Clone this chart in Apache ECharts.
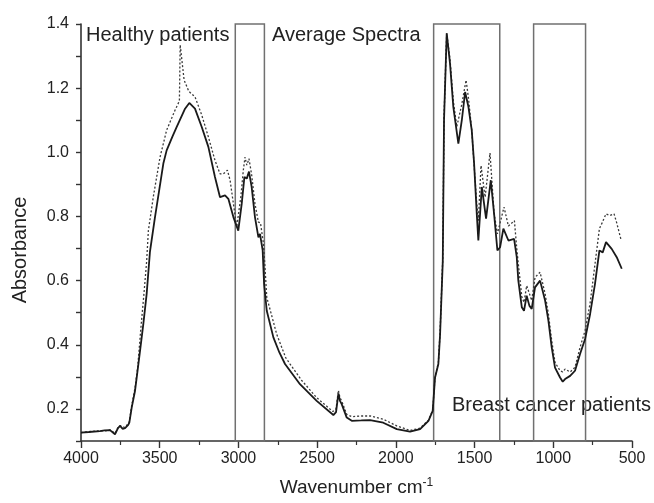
<!DOCTYPE html>
<html>
<head>
<meta charset="utf-8">
<script src="https://cdn.jsdelivr.net/npm/echarts@6/dist/echarts.min.js"></script>
<style>
  html, body { margin: 0; padding: 0; background: #fff; }
  #chart { width: 654px; height: 503px; }
</style>
</head>
<body>
<div id="chart"></div>
<script>
// average spectra (wavenumber cm-1 -> absorbance)
const cancerWn = [4000, 3950, 3880, 3850, 3816, 3784, 3765, 3752, 3735, 3720, 3700, 3693, 3678, 3657, 3646, 3625, 3604, 3583, 3562, 3530,
  3477, 3456, 3420, 3392, 3339, 3312, 3276, 3233, 3191, 3149, 3117, 3085, 3064, 3032, 3001, 2979, 2962, 2947, 2933, 2916,
  2895, 2873, 2863, 2846, 2837, 2820, 2778, 2740, 2704, 2609, 2503, 2397, 2380, 2365, 2355, 2344, 2312, 2280, 2220, 2164,
  2080, 1994, 1910, 1846, 1793, 1766, 1751, 1730, 1719, 1702, 1694, 1677, 1656, 1635, 1603, 1581, 1560, 1539, 1518, 1503,
  1486, 1476, 1454, 1427, 1397, 1376, 1355, 1338, 1317, 1285, 1249, 1232, 1222, 1200, 1186, 1169, 1152, 1137, 1116, 1084,
  1052, 1031, 1010, 989, 957, 940, 925, 893, 862, 830, 798, 766, 735, 707, 686, 665, 629, 597, 565];
const cancerAbs = [0.126, 0.128, 0.131, 0.133, 0.134, 0.121, 0.14, 0.147, 0.138, 0.14, 0.15, 0.157, 0.204, 0.256, 0.298, 0.381, 0.465, 0.558, 0.69, 0.798,
  0.965, 1.006, 1.048, 1.079, 1.136, 1.154, 1.136, 1.079, 1.017, 0.923, 0.86, 0.866, 0.855, 0.798, 0.756, 0.84, 0.923, 0.918, 0.94, 0.892,
  0.798, 0.735, 0.746, 0.694, 0.59, 0.506, 0.423, 0.376, 0.34, 0.277, 0.225, 0.181, 0.19, 0.248, 0.225, 0.215, 0.173, 0.163, 0.164, 0.165,
  0.157, 0.137, 0.129, 0.137, 0.163, 0.194, 0.298, 0.34, 0.433, 0.66, 1.1, 1.371, 1.277, 1.142, 1.027, 1.1, 1.188, 1.142, 1.069, 0.965,
  0.808, 0.725, 0.892, 0.793, 0.913, 0.808, 0.694, 0.704, 0.762, 0.725, 0.73, 0.673, 0.6, 0.517, 0.506, 0.553, 0.522, 0.512, 0.579, 0.6,
  0.538, 0.475, 0.392, 0.329, 0.298, 0.285, 0.293, 0.303, 0.319, 0.371, 0.418, 0.496, 0.59, 0.694, 0.688, 0.72, 0.699, 0.673, 0.637];

const healthyWn = [4000, 3950, 3880, 3850, 3816, 3784, 3765, 3752, 3720, 3693, 3678, 3657, 3640, 3620, 3600, 3583, 3572, 3541, 3498, 3456,
  3403, 3375, 3370, 3345, 3315, 3276, 3233, 3191, 3149, 3117, 3096, 3070, 3053, 3032, 3011, 3003, 2985, 2969, 2958, 2947,
  2933, 2916, 2895, 2873, 2860, 2841, 2831, 2820, 2757, 2700, 2672, 2600, 2503, 2400, 2380, 2365, 2355, 2344, 2312, 2280,
  2220, 2164, 2080, 1994, 1910, 1846, 1793, 1766, 1751, 1730, 1719, 1702, 1694, 1677, 1656, 1635, 1613, 1581, 1554, 1539,
  1518, 1503, 1486, 1476, 1459, 1433, 1402, 1376, 1355, 1313, 1285, 1247, 1232, 1222, 1200, 1186, 1169, 1152, 1137, 1116,
  1084, 1052, 1031, 1010, 989, 957, 940, 925, 893, 862, 830, 798, 766, 735, 707, 690, 665, 640, 614, 597, 571];
const healthyAbs = [0.126, 0.129, 0.132, 0.131, 0.135, 0.124, 0.142, 0.148, 0.142, 0.16, 0.21, 0.265, 0.33, 0.45, 0.56, 0.66, 0.756, 0.86, 0.985, 1.069,
  1.131, 1.16, 1.335, 1.225, 1.19, 1.173, 1.116, 1.048, 0.975, 0.933, 0.933, 0.944, 0.913, 0.84, 0.767, 0.77, 0.86, 0.944, 0.985, 0.96,
  0.98, 0.93, 0.84, 0.782, 0.78, 0.715, 0.64, 0.548, 0.433, 0.36, 0.34, 0.29, 0.235, 0.192, 0.2, 0.258, 0.235, 0.225, 0.183, 0.176,
  0.178, 0.178, 0.168, 0.147, 0.133, 0.14, 0.165, 0.196, 0.3, 0.345, 0.44, 0.67, 1.11, 1.371, 1.29, 1.16, 1.08, 1.15, 1.225, 1.17,
  1.07, 0.96, 0.84, 0.787, 0.959, 0.86, 0.998, 0.81, 0.746, 0.829, 0.77, 0.787, 0.7, 0.652, 0.55, 0.532, 0.584, 0.56, 0.538, 0.61,
  0.626, 0.559, 0.496, 0.413, 0.345, 0.319, 0.315, 0.324, 0.315, 0.33, 0.392, 0.444, 0.53, 0.652, 0.762, 0.78, 0.808, 0.803, 0.808, 0.78, 0.73];

// highlighted spectral windows (wavenumber from, to)
const boxRanges = [[3020, 2835], [1760, 1340], [1125, 795]];
const boxTop = 1.405;
const xTicks = { min: 500, max: 4000, step: 500 };
const yTicks = { min: 0.1, max: 1.4, step: 0.1 };

const font = "'Liberation Sans', Arial, sans-serif";
const ink = "#222";

function zip(xs, ys) {
  return xs.map((x, i) => [x, ys[i]]);
}

const chart = echarts.init(document.getElementById("chart"));

chart.setOption({
  backgroundColor: "#fff",
  animation: false,
  grid: { left: 81, right: 22, top: 24, bottom: 62 },
  xAxis: {
    type: "value",
    inverse: true,
    min: xTicks.min,
    max: xTicks.max,
    interval: xTicks.step,
    name: "Wavenumber cm{sup|-1}",
    nameLocation: "middle",
    nameGap: 36,
    nameTextStyle: {
      fontFamily: font, fontSize: 19, color: ink,
      rich: { sup: { fontFamily: font, fontSize: 12, color: ink, verticalAlign: "top", padding: [0, 0, 10, 0] } }
    },
    axisLine: { lineStyle: { color: "#333", width: 1.6 } },
    axisTick: { length: 7, lineStyle: { color: "#333", width: 1.4 } },
    minorTick: { show: true, splitNumber: 2, length: 4, lineStyle: { color: "#333", width: 1.2 } },
    splitLine: { show: false },
    axisLabel: { fontFamily: font, fontSize: 16, color: ink, margin: 10, formatter: (v) => String(v) }
  },
  yAxis: {
    type: "value",
    min: yTicks.min,
    max: yTicks.max,
    interval: yTicks.step,
    axisLine: { show: true, lineStyle: { color: "#333", width: 1.6 } },
    axisTick: { show: true, length: 5, lineStyle: { color: "#333", width: 1.4 } },
    splitLine: { show: false },
    axisLabel: {
      fontFamily: font, fontSize: 16, color: ink, margin: 12,
      formatter: (v) => (Math.round(v * 10) % 2 === 0 ? v.toFixed(1) : "")
    }
  },
  series: [
    {
      name: "Healthy patients",
      type: "line",
      data: zip(healthyWn, healthyAbs),
      symbol: "none",
      lineStyle: { color: "#3a3a3a", width: 1.3, type: [2, 2] }
    },
    {
      name: "Breast cancer patients",
      type: "line",
      data: zip(cancerWn, cancerAbs),
      symbol: "none",
      clip: false,
      lineStyle: { color: "#1a1a1a", width: 1.8 },
      markArea: {
        silent: true,
        itemStyle: { color: "rgba(0,0,0,0)", borderColor: "#707070", borderWidth: 1.5 },
        data: boxRanges.map(([a, b]) => [{ xAxis: a, yAxis: yTicks.min }, { xAxis: b, yAxis: boxTop }])
      }
    }
  ],
  graphic: [
    { type: "text", x: 86, y: 35, style: { text: "Healthy patients", font: `20px ${font}`, fill: ink, verticalAlign: "middle" } },
    { type: "text", x: 272, y: 35, style: { text: "Average Spectra", font: `20px ${font}`, fill: ink, verticalAlign: "middle" } },
    { type: "text", x: 452, y: 405, style: { text: "Breast cancer patients", font: `20px ${font}`, fill: ink, verticalAlign: "middle" } },
    { type: "text", x: 20, y: 250, rotation: Math.PI / 2, style: { text: "Absorbance", font: `20px ${font}`, fill: ink, align: "center", verticalAlign: "middle" } }
  ]
});
</script>
</body>
</html>
